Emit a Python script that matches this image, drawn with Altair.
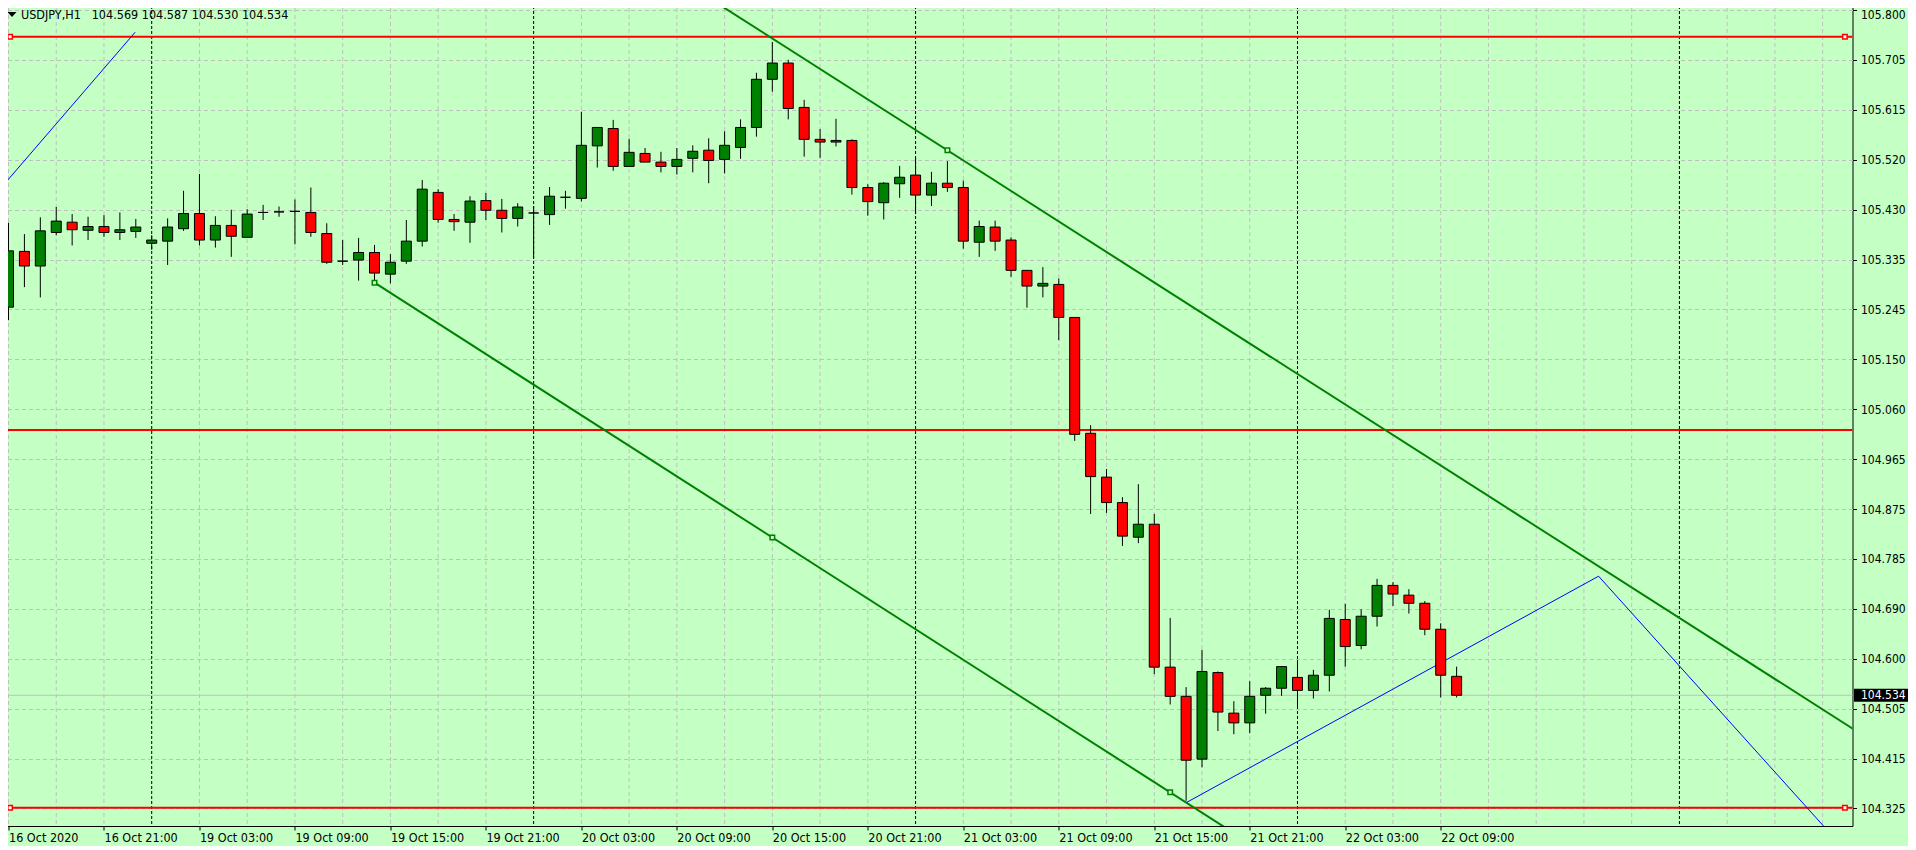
import json
import altair as alt
import pandas as pd

# ---------------- data ----------------
bar_index = list(range(92))  # H1 bars, 16 Oct 2020 15:00 ... 22 Oct 2020 10:00

opens = [105.251, 105.354, 105.327, 105.389, 105.408, 105.393, 105.400, 105.389, 105.391, 105.369,
         105.373, 105.396, 105.424, 105.375, 105.402, 105.380, 105.426, 105.427, 105.428, 105.426,
         105.387, 105.336, 105.338, 105.352, 105.312, 105.336, 105.373, 105.463, 105.413, 105.408,
         105.448, 105.430, 105.415, 105.425, 105.422, 105.454, 105.452, 105.549, 105.581, 105.511,
         105.535, 105.519, 105.511, 105.526, 105.541, 105.524, 105.546, 105.583, 105.672, 105.702,
         105.620, 105.561, 105.556, 105.559, 105.472, 105.444, 105.479, 105.495, 105.458, 105.480,
         105.472, 105.371, 105.399, 105.375, 105.319, 105.290, 105.293, 105.232, 105.018, 104.937,
         104.890, 104.826, 104.850, 104.586, 104.532, 104.416, 104.576, 104.501, 104.483, 104.534,
         104.547, 104.567, 104.543, 104.571, 104.674, 104.626, 104.680, 104.737, 104.719, 104.704,
         104.656, 104.569]
highs = [105.407, 105.386, 105.417, 105.436, 105.423, 105.418, 105.421, 105.426, 105.414, 105.384,
         105.415, 105.466, 105.497, 105.419, 105.431, 105.432, 105.440, 105.437, 105.450, 105.472,
         105.406, 105.375, 105.379, 105.366, 105.349, 105.412, 105.486, 105.469, 105.423, 105.456,
         105.462, 105.451, 105.443, 105.438, 105.473, 105.466, 105.612, 105.583, 105.597, 105.562,
         105.545, 105.538, 105.545, 105.550, 105.563, 105.576, 105.598, 105.684, 105.741, 105.708,
         105.634, 105.580, 105.599, 105.561, 105.478, 105.482, 105.512, 105.527, 105.501, 105.521,
         105.485, 105.411, 105.411, 105.380, 105.319, 105.325, 105.304, 105.232, 105.033, 104.952,
         104.900, 104.924, 104.869, 104.677, 104.549, 104.618, 104.578, 104.523, 104.560, 104.549,
         104.587, 104.599, 104.581, 104.692, 104.703, 104.693, 104.749, 104.743, 104.730, 104.708,
         104.667, 104.587]
lows = [105.227, 105.288, 105.269, 105.384, 105.365, 105.375, 105.381, 105.375, 105.379, 105.357,
        105.329, 105.392, 105.365, 105.361, 105.344, 105.380, 105.412, 105.418, 105.367, 105.381,
        105.331, 105.329, 105.300, 105.296, 105.295, 105.331, 105.363, 105.407, 105.392, 105.370,
        105.412, 105.389, 105.400, 105.342, 105.403, 105.433, 105.446, 105.509, 105.503, 105.511,
        105.519, 105.500, 105.496, 105.500, 105.480, 105.498, 105.525, 105.566, 105.649, 105.598,
        105.529, 105.527, 105.548, 105.459, 105.420, 105.413, 105.453, 105.423, 105.438, 105.464,
        105.359, 105.344, 105.355, 105.307, 105.250, 105.269, 105.190, 105.004, 104.869, 104.871,
        104.810, 104.815, 104.573, 104.517, 104.339, 104.401, 104.468, 104.462, 104.464, 104.500,
        104.533, 104.513, 104.528, 104.541, 104.587, 104.619, 104.661, 104.699, 104.685, 104.645,
        104.530, 104.530]
closes = [105.355, 105.327, 105.392, 105.410, 105.394, 105.400, 105.389, 105.394, 105.399, 105.375,
          105.399, 105.424, 105.375, 105.402, 105.382, 105.423, 105.426, 105.427, 105.428, 105.389,
          105.334, 105.336, 105.352, 105.314, 105.334, 105.373, 105.469, 105.413, 105.409, 105.447,
          105.430, 105.415, 105.436, 105.425, 105.456, 105.454, 105.550, 105.583, 105.511, 105.537,
          105.519, 105.511, 105.524, 105.539, 105.522, 105.550, 105.583, 105.672, 105.702, 105.618,
          105.561, 105.556, 105.559, 105.472, 105.446, 105.480, 105.491, 105.458, 105.480, 105.472,
          105.373, 105.400, 105.373, 105.319, 105.290, 105.295, 105.232, 105.016, 104.938, 104.890,
          104.828, 104.850, 104.586, 104.532, 104.414, 104.578, 104.503, 104.483, 104.532, 104.547,
          104.587, 104.543, 104.571, 104.676, 104.624, 104.680, 104.737, 104.721, 104.704, 104.656,
          104.571, 104.534]

symbol_name = "USDJPY,H1"

time_tick_bars = [0, 6, 12, 18, 24, 30, 36, 42, 48, 54, 60, 66, 72, 78, 84, 90]
time_labels = ["16 Oct 2020", "16 Oct 21:00", "19 Oct 03:00", "19 Oct 09:00", "19 Oct 15:00",
               "19 Oct 21:00", "20 Oct 03:00", "20 Oct 09:00", "20 Oct 15:00", "20 Oct 21:00",
               "21 Oct 03:00", "21 Oct 09:00", "21 Oct 15:00", "21 Oct 21:00", "22 Oct 03:00",
               "22 Oct 09:00"]
price_labels = ["105.800", "105.705", "105.615", "105.520", "105.430", "105.335", "105.245",
                "105.150", "105.060", "104.965", "104.875", "104.785", "104.690", "104.600",
                "104.505", "104.415", "104.325"]
price_grid_top = 105.800
price_grid_step = 0.0921875

day_separator_bars = [9, 33, 57, 81, 105]

red_levels = [105.7507, 105.0241, 104.3263]
red_marker_bars = [0.1, 115.4]
red_marker_levels = [105.7507, 104.3263]

upper_channel_bars = [48.54, 102.91]
upper_channel_prices = [105.7372, 104.7161]
lower_channel_bars = [23, 73]
lower_channel_prices = [105.2962, 104.3547]
lower_marker_bars = [23, 48, 73]
upper_marker_bars = [59]

zigzag_a_bars = [-0.04, 7.96]
zigzag_a_prices = [105.486, 105.759]
zigzag_b_bars = [74.03, 99.92, 114.1]
zigzag_b_prices = [104.336, 104.754, 104.291]

# ---------------- styling / geometry ----------------
BG = "#C4FFC4"
GRID = "#C0C0C0"
RED = "#FF0000"
GREEN = "#008000"
BLUE = "#0000FF"
FONT = "DejaVu Sans Condensed, DejaVu Sans, sans-serif"

W, H = 1850, 825
X_MIN = -0.0625
X_MAX = X_MIN + W / 16.0
PX_PER_PRICE = 541.29
Y_MAX = price_grid_top + 9 / PX_PER_PRICE
Y_MIN = Y_MAX - H / PX_PER_PRICE

xscale = alt.Scale(domain=[X_MIN, X_MAX], nice=False, zero=False)
yscale = alt.Scale(domain=[Y_MIN, Y_MAX], nice=False, zero=False)

grid_values = [price_grid_top - i * price_grid_step for i in range(len(price_labels))]
y_label_expr = (json.dumps(price_labels) +
                f"[round(({price_grid_top} - datum.value) / {price_grid_step})]")
x_label_expr = json.dumps(time_labels) + "[round(datum.value / 6)]"

xaxis = alt.Axis(orient="bottom", values=time_tick_bars, labelExpr=x_label_expr, grid=False,
                 domain=False, ticks=True, tickSize=4, tickColor="black", labelFont=FONT,
                 labelFontSize=12.5, labelColor="black", labelAlign="left",
                 labelBaseline="top", labelPadding=1, labelFlush=False, labelOverlap=False,
                 title=None)
yaxis = alt.Axis(orient="right", values=grid_values, labelExpr=y_label_expr, grid=True,
                 gridColor=GRID, gridDash=[4, 3], gridWidth=1, domain=False, ticks=True,
                 tickSize=4, tickColor="black", labelFont=FONT, labelFontSize=12,
                 labelColor="black", labelAlign="left", labelBaseline="middle",
                 labelOffset={"condition": {"test": f"datum.value > {price_grid_top - 0.01}",
                                            "value": 4}, "value": 0},
                 labelPadding=4, labelFlush=False, labelOverlap=False, title=None)


def X(field="k"):
    return alt.X(f"{field}:Q", scale=xscale, axis=xaxis, title=None)


def Y(field):
    return alt.Y(f"{field}:Q", scale=yscale, axis=yaxis, title=None)


# ---------------- tables ----------------
candles = pd.DataFrame({"k": bar_index, "open": opens, "high": highs, "low": lows,
                        "close": closes})
candles["dir"] = ["up" if c > o else ("down" if c < o else "flat")
                  for o, c in zip(opens, closes)]

vgrid = pd.DataFrame({"k": [k for k in range(0, int(X_MAX) + 2, 3)
                            if k not in day_separator_bars]})
seps = pd.DataFrame({"k": day_separator_bars})
levels = pd.DataFrame({"level": red_levels})
red_marks = pd.DataFrame([{"k": k, "p": p} for p in red_marker_levels for k in red_marker_bars])
last_price = pd.DataFrame({"level": [closes[-1]]})


def extend(bars, prices, k_from, k_to):
    slope = (prices[1] - prices[0]) / (bars[1] - bars[0])
    return pd.DataFrame({"k": [k_from, k_to],
                         "p": [prices[0] + slope * (k_from - bars[0]),
                               prices[0] + slope * (k_to - bars[0])]})


def on_line(bars, prices, ks):
    slope = (prices[1] - prices[0]) / (bars[1] - bars[0])
    return pd.DataFrame({"k": ks, "p": [prices[0] + slope * (k - bars[0]) for k in ks]})


upper_line = extend(upper_channel_bars, upper_channel_prices, X_MIN - 1, X_MAX + 1)
lower_line = extend(lower_channel_bars, lower_channel_prices, lower_channel_bars[0], X_MAX + 1)
green_marks = pd.concat([on_line(lower_channel_bars, lower_channel_prices, lower_marker_bars),
                         on_line(upper_channel_bars, upper_channel_prices, upper_marker_bars)])
zz_a = pd.DataFrame({"k": zigzag_a_bars, "p": zigzag_a_prices, "o": range(len(zigzag_a_bars))})
zz_b = pd.DataFrame({"k": zigzag_b_bars, "p": zigzag_b_prices, "o": range(len(zigzag_b_bars))})

# ---------------- layers ----------------
grid_v = alt.Chart(vgrid).mark_rule(color=GRID, strokeWidth=1, strokeDash=[4, 3]).encode(x=X())
sep_v = alt.Chart(seps).mark_rule(color="black", strokeWidth=1, strokeDash=[3, 2]).encode(x=X())
red_rules = alt.Chart(levels).mark_rule(color=RED, strokeWidth=2).encode(y=Y("level"))
price_rule = alt.Chart(last_price).mark_rule(color=GRID, strokeWidth=1).encode(y=Y("level"))

upper = alt.Chart(upper_line).mark_line(color=GREEN, strokeWidth=2, clip=True).encode(
    x=X(), y=Y("p"))
lower = alt.Chart(lower_line).mark_line(color=GREEN, strokeWidth=2, clip=True).encode(
    x=X(), y=Y("p"))
zza = alt.Chart(zz_a).mark_line(color=BLUE, strokeWidth=1, clip=True).encode(
    x=X(), y=Y("p"), order="o:Q")
zzb = alt.Chart(zz_b).mark_line(color=BLUE, strokeWidth=1, clip=True).encode(
    x=X(), y=Y("p"), order="o:Q")

wicks = alt.Chart(candles).mark_rule(color="black", strokeWidth=1, clip=True).encode(
    x=X(), y=Y("low"), y2="high:Q")
bodies = alt.Chart(candles).mark_bar(size=10, stroke="black", strokeWidth=1, clip=True).encode(
    x=X(), y=Y("open"), y2="close:Q",
    fill=alt.Fill("dir:N", scale=alt.Scale(domain=["up", "down", "flat"],
                                            range=[GREEN, RED, "#000000"]), legend=None))

gsq = alt.Chart(green_marks).mark_point(shape="square", size=20, filled=True, fill=BG,
                                         stroke=GREEN, strokeWidth=1.5, opacity=1).encode(
    x=X(), y=Y("p"))
rsq = alt.Chart(red_marks).mark_point(shape="square", size=20, filled=True, fill="white",
                                       stroke=RED, strokeWidth=1.5, opacity=1, clip=False).encode(
    x=X(), y=Y("p"))

one = pd.DataFrame({"t": [symbol_name]})
ohlc_text = f"{opens[-1]:.3f} {highs[-1]:.3f} {lows[-1]:.3f} {closes[-1]:.3f}"
tri = alt.Chart(one).mark_point(shape="M -1 -0.55 L 1 -0.55 L 0 0.55 Z", size=81, filled=True,
                                color="black", opacity=1).encode(
    x=alt.value(9.5), y=alt.value(13.5))
title1 = alt.Chart(one).mark_text(align="left", baseline="middle", font=FONT, fontSize=12.5,
                                  color="black").encode(
    x=alt.value(18.5), y=alt.value(14), text="t:N")
title2 = alt.Chart(pd.DataFrame({"t": [ohlc_text]})).mark_text(
    align="left", baseline="middle", font=FONT, fontSize=12.5, color="black").encode(
    x=alt.value(89.2), y=alt.value(14), text="t:N")

box_df = pd.DataFrame({"level": [closes[-1]], "t": [f"{closes[-1]:.3f}"]})
box = alt.Chart(box_df).mark_point(shape="M -1 -0.236 L 1 -0.236 L 1 0.236 L -1 0.236 Z",
                                   size=3025, filled=True, color="black", opacity=1,
                                   clip=False).encode(x=alt.value(1879), y=Y("level"))
box_text = alt.Chart(box_df).mark_text(align="left", baseline="middle", font=FONT, fontSize=12,
                                       color="white", clip=False).encode(
    x=alt.value(1858.5), y=Y("level"), text="t:N")

chart = alt.layer(
    grid_v, sep_v, price_rule, red_rules, upper, lower, zza, zzb,
    wicks, bodies, gsq, rsq, tri, title1, title2, box, box_text
).properties(
    width=W, height=H, background=BG,
    padding={"left": -5.5, "top": -7, "right": 55.5, "bottom": 20},
    autosize=alt.AutoSizeParams(type="none"),
).configure_view(fill=BG, stroke="black", strokeWidth=1)

chart.save("out.html", embed_options={"renderer": "svg", "actions": False})
